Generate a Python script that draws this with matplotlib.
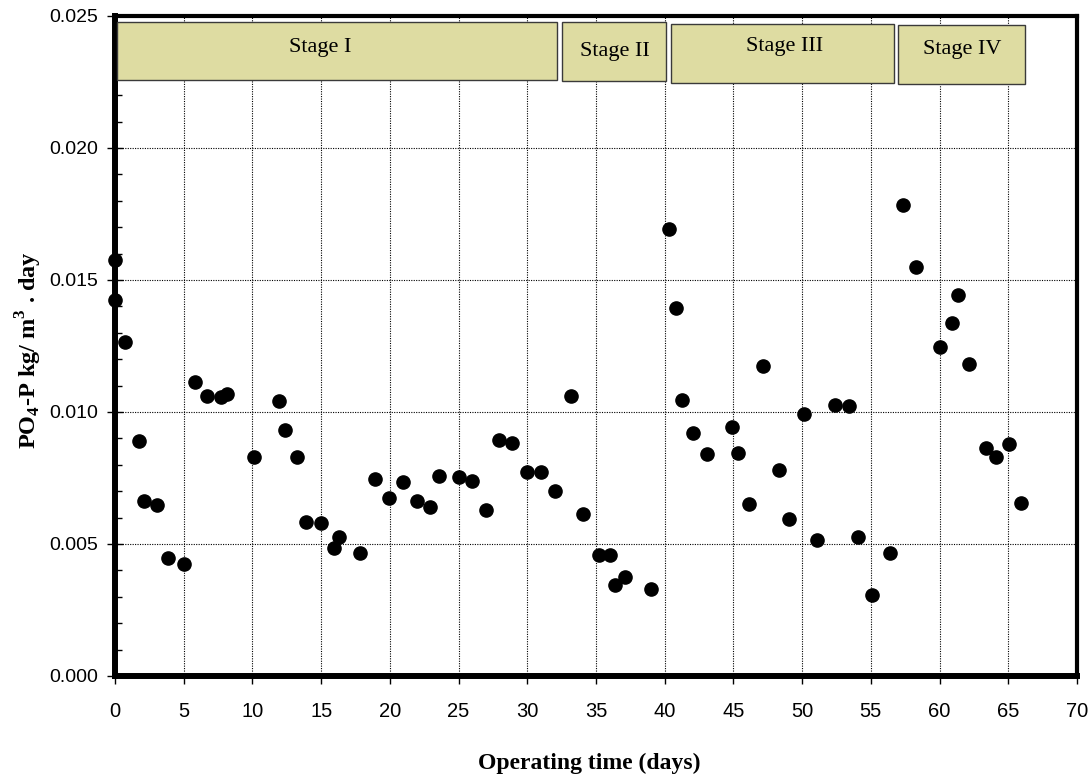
import matplotlib
matplotlib.use('Agg')
import matplotlib.pyplot as plt
from matplotlib.patches import Rectangle
from matplotlib.ticker import MultipleLocator, FormatStrFormatter

# Operating time (days) and PO4-P loading (kg/m3.day)
days = [0, 0, 0.73, 1.72, 2.14, 3.03, 3.86, 5.05, 5.85, 6.70, 7.72, 8.16,
        10.12, 11.94, 12.35, 13.25, 13.91, 15.0, 15.97, 16.29, 17.82, 18.91,
        19.93, 20.97, 21.99, 22.91, 23.57, 25.02, 25.97, 26.99, 27.94, 28.91,
        30.0, 30.97, 32.01, 33.16, 34.08, 35.2, 36.05, 36.40, 37.13, 39.01,
        40.29, 40.84, 41.24, 42.05, 43.10, 44.90, 45.35, 46.16, 47.16, 48.29,
        49.07, 50.10, 51.08, 52.40, 53.41, 54.06, 55.06, 56.37, 57.37, 58.30,
        60.06, 60.89, 61.34, 62.11, 63.37, 64.07, 65.05, 65.96]
po4 = [15.76, 14.23, 12.67, 8.92, 6.63, 6.47, 4.46, 4.26, 11.12, 10.61, 10.56,
       10.68, 8.30, 10.40, 9.33, 8.29, 5.83, 5.79, 4.86, 5.26, 4.65, 7.46,
       6.76, 7.34, 6.62, 6.41, 7.57, 7.54, 7.37, 6.28, 8.95, 8.82, 7.73, 7.72,
       7.01, 10.60, 6.12, 4.60, 4.60, 3.44, 3.74, 3.29, 16.93, 13.95, 10.45,
       9.20, 8.40, 9.44, 8.44, 6.51, 11.76, 7.82, 5.93, 9.92, 5.16, 10.25,
       10.21, 5.27, 3.06, 4.65, 17.83, 15.49, 12.48, 13.37, 14.44, 11.80, 8.64,
       8.29, 8.78, 6.57]
po4 = [v / 1000 for v in po4]

# Stage label boxes
stage_names = ['Stage I', 'Stage II', 'Stage III', 'Stage IV']
stage_x0 = [0.12, 32.55, 40.44, 56.95]
stage_x1 = [32.17, 40.06, 56.67, 66.2]
stage_y0 = [0.02259, 0.02253, 0.02248, 0.02242]
stage_y1 = [0.02478, 0.02478, 0.02471, 0.02465]
stage_tx = [14.93, 36.37, 48.72, 61.66]
stage_ty = [0.02379, 0.02367, 0.02386, 0.02373]

serif = 'Liberation Serif'
sans = 'Liberation Sans'

fig = plt.figure(figsize=(10.91, 7.77), dpi=100)
ax = fig.add_axes([115/1091, 1 - 676/777, 962/1091, 660/777])

# Grid
ax.grid(True, which='major', color='black', linestyle=(0, (1, 1.2)),
        linewidth=0.8, zorder=0)
ax.set_axisbelow(True)

# Data points
ax.plot(days, po4, 'o', color='black', markersize=9.5, clip_on=False,
        zorder=5)

# Stage boxes
for name, x0, x1, y0, y1, tx, ty in zip(stage_names, stage_x0, stage_x1,
                                         stage_y0, stage_y1, stage_tx,
                                         stage_ty):
    ax.add_patch(Rectangle((x0, y0), x1 - x0, y1 - y0, facecolor='#dedca2',
                           edgecolor='#3a3a3a', linewidth=1.0, zorder=3))
    ax.text(tx, ty, name, ha='center', va='center', fontsize=16,
            family=serif, zorder=4)

# Axes
ax.set_xlim(0, 70)
ax.set_ylim(0, 0.025)
ax.xaxis.set_major_locator(MultipleLocator(5))
ax.yaxis.set_major_locator(MultipleLocator(0.005))
ax.yaxis.set_minor_locator(MultipleLocator(0.001))
ax.yaxis.set_major_formatter(FormatStrFormatter('%.3f'))
ax.tick_params(axis='x', which='major', direction='out', length=6, width=1,
               pad=13, labelsize=14.5)
ax.tick_params(axis='y', which='major', direction='inout', length=12,
               width=1, pad=6, labelsize=14)
ax.tick_params(axis='y', which='minor', direction='in', length=5, width=1)
for lab in ax.get_xticklabels() + ax.get_yticklabels():
    lab.set_family(sans)

for side in ['left', 'bottom']:
    ax.spines[side].set_linewidth(4.3)
for side in ['top', 'right']:
    ax.spines[side].set_linewidth(3.0)

# Axis titles
fig.text(29/1091, 1 - 350/777, r'PO$_\mathregular{4}$-P kg/ m$^\mathregular{3}$ . day',
         rotation=90, ha='center', va='center', fontsize=17.5,
         family=serif, weight='bold')
fig.text(589/1091, 1 - 763/777, 'Operating time (days)', ha='center',
         va='center', fontsize=17, family=serif, weight='bold')

fig.savefig('out.png', dpi=100)
